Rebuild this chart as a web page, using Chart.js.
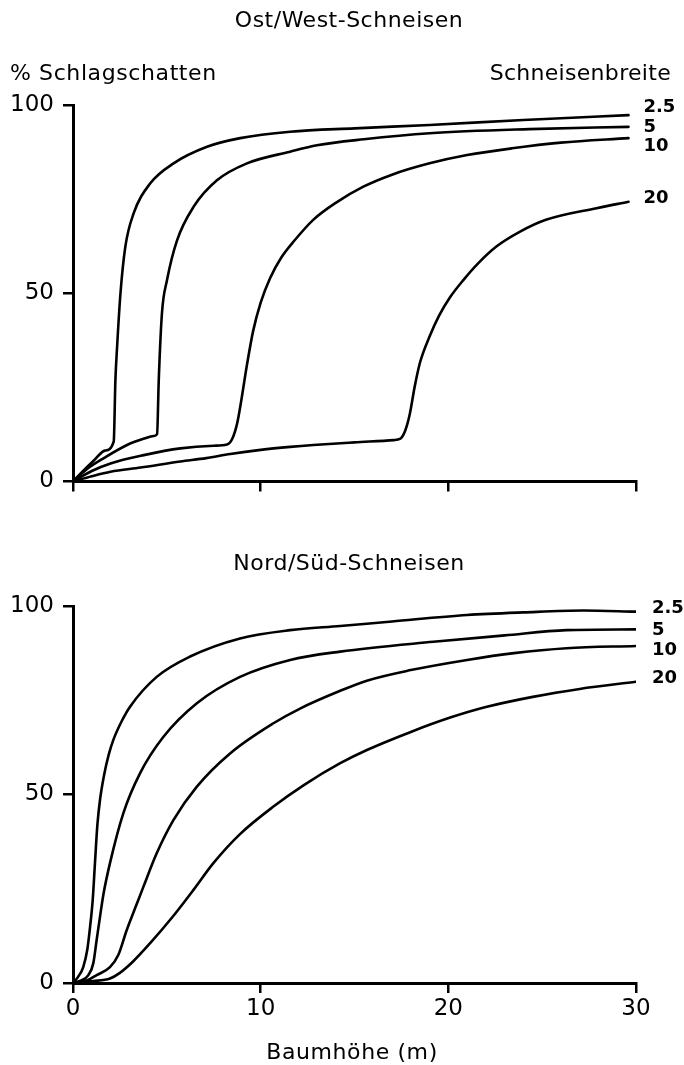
<!DOCTYPE html>
<html><head><meta charset="utf-8">
<script src="https://cdn.jsdelivr.net/npm/chart.js@4.4.1/dist/chart.umd.min.js"></script>
<style>
html,body{margin:0;padding:0;background:#fff;}
#wrap{position:relative;width:684px;height:1065px;overflow:hidden;}
.box{position:absolute;left:0;width:684px;}
</style></head><body>
<div id="wrap">
<div class="box" style="top:0;height:520px"><canvas id="c1"></canvas></div>
<div class="box" style="top:520px;height:545px"><canvas id="c2"></canvas></div>
</div>
<script>
// ---- data ----
const widthLabels = ['2.5', '5', '10', '20'];
const xTicks = [0, 10, 20, 30];
const yTicks = [0, 50, 100];

// Ost/West-Schneisen
const owX25 = [0, 0.5, 1.1, 1.7, 2.17, 2.26, 2.35, 2.53, 2.79, 3.23, 4.12, 5.36, 7.14, 8.91, 11.57, 15, 19, 24, 29.6];
const owY25 = [0, 2.6, 5.5, 8.2, 10.6, 27, 35.8, 50, 62.4, 71.2, 79.2, 84.5, 88.9, 91.2, 92.9, 93.8, 94.7, 96, 97.3];
const owX5 = [0, 0.8, 1.64, 2.88, 3.8, 4.3, 4.48, 4.57, 4.74, 5.01, 5.54, 6.43, 7.67, 9.27, 11.57, 13, 15.5, 19, 24.3, 29.6];
const owY5 = [0, 3.5, 6.2, 9.7, 11.4, 12.1, 12.6, 27, 44.7, 53.5, 64, 73, 80, 84.5, 87.6, 89.3, 90.9, 92.5, 93.6, 94.2];
const owX10 = [0, 1, 2, 3.77, 5.72, 7.5, 8.2, 8.5, 8.75, 8.95, 9.27, 9.6, 10.0, 10.5, 11.1, 11.8, 12.8, 14, 15.47, 17, 19, 21, 23.4, 26, 29.6];
const owY10 = [0, 2.8, 4.8, 7, 8.8, 9.5, 9.8, 11.5, 15.5, 21, 31, 40, 47.5, 54, 59.5, 64, 69.5, 74, 78.3, 81.5, 84.5, 86.7, 88.5, 90, 91.2];
const owX20 = [0, 1, 2, 3.6, 5.72, 7.1, 8.38, 10, 11.57, 12.8, 15, 17.1, 17.42, 17.7, 17.95, 18.2, 18.48, 19.0, 19.5, 20.1, 20.8, 21.6, 22.56, 23.8, 25.2, 27.9, 29.6];
const owY20 = [0, 1.4, 2.6, 3.7, 5.3, 6.2, 7.3, 8.4, 9.2, 9.7, 10.4, 11, 11.3, 13.5, 18, 25, 31.4, 38.5, 44, 49, 53.5, 58, 62.4, 66.3, 69.5, 72.6, 74.3];

// Nord/Süd-Schneisen
const nsX25 = [0, 0.28, 0.55, 0.76, 0.91, 1.05, 1.17, 1.3, 1.45, 1.65, 1.9, 2.15, 2.6, 3.04, 4.46, 6.24, 8.9, 11.57, 14.24, 17, 21, 24, 27.2, 30];
const nsY25 = [0, 1.7, 4.3, 8.8, 14.9, 22, 31.8, 42, 49, 55, 60.5, 64.5, 69.5, 73.3, 81.2, 86.6, 91.4, 93.6, 94.7, 95.9, 97.6, 98.3, 98.8, 98.5];
const nsX5 = [0, 0.4, 0.82, 1.08, 1.26, 1.44, 1.62, 1.97, 2.68, 3.57, 4.82, 6.6, 8.9, 11.57, 14.24, 19.2, 23, 26.3, 30];
const nsY5 = [0, 0.6, 2.1, 5.2, 11.4, 17.6, 23.5, 31.8, 45, 55.6, 65.3, 74.2, 81.2, 85.7, 87.9, 90.5, 92.2, 93.6, 93.8];
const nsX10 = [0, 0.8, 1.26, 1.97, 2.42, 2.86, 3.4, 3.75, 4.46, 5.35, 6.6, 8.37, 10.68, 12.1, 14.24, 15.66, 18, 21, 23.5, 26.3, 30];
const nsY10 = [0, 0.8, 2.1, 4.2, 7.5, 14, 21, 25.5, 34.4, 43.2, 52.1, 60.9, 68.9, 72.8, 77.5, 80.2, 83, 85.7, 87.5, 88.8, 89.4];
const nsX20 = [0, 1.08, 1.97, 2.5, 3.2, 4.1, 5.3, 6.42, 7.48, 8.9, 10.68, 12.3, 14.24, 15.66, 18, 20.1, 22, 24.5, 27, 30];
const nsY20 = [0, 0.5, 1.2, 2.7, 5.7, 10.5, 17.5, 24.7, 31.8, 39.5, 46.8, 52.5, 58.3, 61.8, 66.6, 70.4, 73.2, 75.9, 78, 79.9];

// ---- helpers ----
const FAM = '"DejaVu Sans", sans-serif';
function pts(xs, ys) { return xs.map((x, i) => ({ x: x, y: ys[i] })); }
function ds(label, xs, ys) {
  return { label: label, data: pts(xs, ys), borderColor: '#000', borderWidth: 2.6,
    pointRadius: 0, cubicInterpolationMode: 'monotone', fill: false,
    borderCapStyle: 'round', borderJoinStyle: 'round' };
}

const textPlugin = {
  id: 'texts',
  afterDraw(chart, args, opts) {
    const ctx = chart.ctx;
    ctx.save();
    ctx.fillStyle = '#000';
    ctx.textBaseline = 'middle';
    for (const t of (opts.items || [])) {
      ctx.font = t.font;
      if ('letterSpacing' in ctx) ctx.letterSpacing = (t.ls || 0) + 'px';
      ctx.textAlign = t.align || 'left';
      let x = t.x, y = t.y;
      if (t.dataX !== undefined) {
        x = chart.scales.x.getPixelForValue(t.dataX);
        y = chart.scales.y.getPixelForValue(t.dataY);
      }
      ctx.fillText(t.text, x, y);
    }
    ctx.restore();
  }
};

function axisCommon() {
  return {
    grid: { drawOnChartArea: false, drawTicks: true, tickLength: 10, color: '#000', lineWidth: 2.5 },
    border: { display: true, color: '#000', width: 3 }
  };
}

function makeChart(id, datasets, showXLabels, padTop, xHeight, texts) {
  const ax = axisCommon(), ay = axisCommon();
  return new Chart(document.getElementById(id), {
    type: 'line',
    data: { datasets: datasets },
    plugins: [textPlugin],
    options: {
      responsive: true, maintainAspectRatio: false, animation: false,
      layout: { padding: { top: padTop, right: 48, left: 0, bottom: 0 } },
      plugins: { legend: { display: false }, tooltip: { enabled: false }, texts: { items: texts } },
      scales: {
        x: {
          type: 'linear', min: 0, max: 30,
          afterBuildTicks: s => { s.ticks = xTicks.map(v => ({ value: v })); },
          ticks: { display: showXLabels, color: '#000', font: { family: FAM, size: 23 }, padding: 2, maxRotation: 0 },
          grid: ax.grid, border: ax.border,
          afterFit: s => { s.height = xHeight; }
        },
        y: {
          type: 'linear', min: 0, max: 100,
          afterBuildTicks: s => { s.ticks = yTicks.map(v => ({ value: v })); },
          ticks: { color: '#000', font: { family: FAM, size: 23 }, padding: 9 },
          grid: ay.grid, border: ay.border,
          afterFit: s => { s.width = 73; }
        }
      }
    }
  });
}

const TF = '22px ' + FAM;
const LF = 'bold 18px ' + FAM;

const owSeries = [[owX25, owY25], [owX5, owY5], [owX10, owY10], [owX20, owY20]];
const nsSeries = [[nsX25, nsY25], [nsX5, nsY5], [nsX10, nsY10], [nsX20, nsY20]];
const owLabelY = [99.3, 94.2, 88.9, 75.2];
const nsLabelY = [99.5, 93.6, 88.3, 80.9];

makeChart('c1', owSeries.map((s, i) => ds(widthLabels[i], s[0], s[1])), false, 105, 38.5, [
  { text: 'Ost/West-Schneisen', x: 349, y: 21, font: TF, align: 'center', ls: 0.5 },
  { text: '% Schlagschatten', x: 10, y: 74, font: TF, align: 'left', ls: 0.6 },
  { text: 'Schneisenbreite', x: 671, y: 74, font: TF, align: 'right', ls: 0.3 }
].concat(widthLabels.map((t, i) => ({ text: t, dataX: 30.4, dataY: owLabelY[i], font: LF, align: 'left' }))));

makeChart('c2', nsSeries.map((s, i) => ds(widthLabels[i], s[0], s[1])), true, 86, 82, [
  { text: 'Nord/Süd-Schneisen', x: 349, y: 44, font: TF, align: 'center', ls: 0.5 },
  { text: 'Baumhöhe (m)', x: 352, y: 533, font: TF, align: 'center', ls: 0.6 }
].concat(widthLabels.map((t, i) => ({ text: t, dataX: 30.85, dataY: nsLabelY[i], font: LF, align: 'left' }))));
</script>
</body></html>
